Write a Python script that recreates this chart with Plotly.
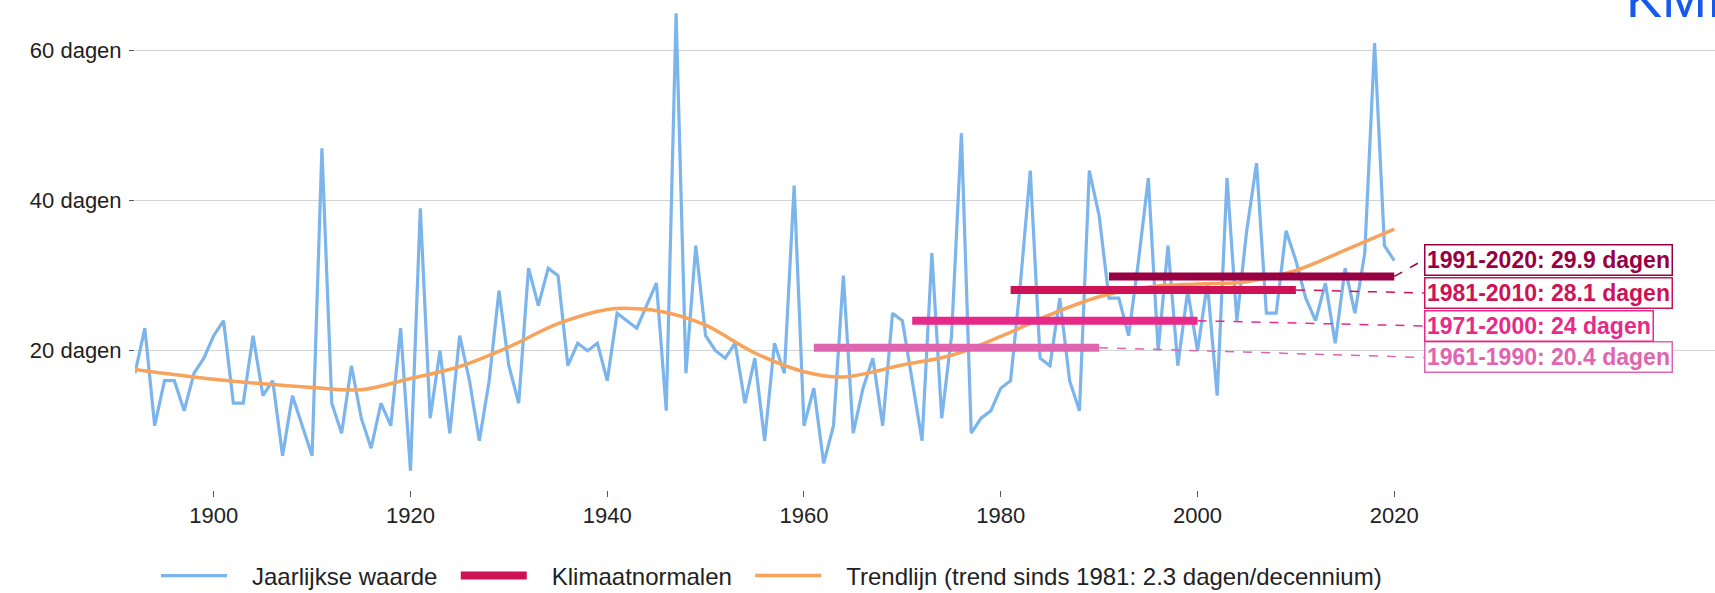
import plotly.graph_objects as go

# ---------------- data ----------------
years = list(range(1892, 2021))
jaarlijks = [
    17, 23, 10, 16, 16, 12, 17, 19,                      # 1892-1899
    22, 24, 13, 13, 22, 14, 16, 6, 14, 10,               # 1900-1909
    6, 47, 13, 9, 18, 11, 7, 13, 10, 23,                 # 1910-1919
    4, 39, 11, 20, 9, 22, 16, 8, 16, 28,                 # 1920-1929
    18, 13, 31, 26, 31, 30, 18, 21, 20, 21,              # 1930-1939
    16, 25, 24, 23, 26, 29, 12, 65, 17, 34,              # 1940-1949
    22, 20, 19, 21, 13, 19, 8, 21, 17, 42,               # 1950-1959
    10, 15, 5, 10, 30, 9, 15, 19, 10, 25,                # 1960-1969
    24, 16, 8, 33, 11, 22, 49, 9, 11, 12,                # 1970-1979
    15, 16, 29, 44, 19, 18, 27, 16, 12, 44,              # 1980-1989
    38, 27, 27, 22, 32, 43, 20, 34, 18, 28,              # 1990-1999
    20, 29, 14, 43, 24, 36, 45, 25, 25, 36,              # 2000-2009
    32, 27, 24, 29, 21, 31, 25, 33, 61, 34,              # 2010-2019
    32,                                                  # 2020
]

trend_years = [1892, 1900, 1910, 1915, 1920, 1925, 1930, 1935, 1940, 1943,
               1946, 1950, 1955, 1960, 1964, 1970, 1975, 1980, 1985, 1990,
               1995, 2000, 2005, 2010, 2015, 2020]
trend_values = [17.5, 16.2, 15.1, 14.8, 16.3, 17.9, 20.5, 23.6, 25.5, 25.6,
                25.1, 23.4, 19.7, 17.2, 16.5, 18.1, 19.4, 21.9, 24.8, 27.2,
                28.5, 28.9, 29.2, 30.7, 33.4, 36.2]

normal_start = [1961, 1971, 1981, 1991]
normal_end = [1990, 2000, 2010, 2020]
normal_values = [20.4, 24, 28.1, 29.9]
normal_colors = ["#df65b0", "#e7298a", "#ce1256", "#980043"]
label_y = [19.1, 23.3, 27.7, 32.1]
label_x = 2023

tick_years = [1900, 1920, 1940, 1960, 1980, 2000, 2020]
tick_values = [20, 40, 60]
tick_labels = ["20 dagen", "40 dagen", "60 dagen"]

FONT = "Liberation Sans, Arial, sans-serif"
TXT = "#222222"
NB = "\u00a0"

fig = go.Figure()

fig.add_trace(go.Scatter(
    x=years, y=jaarlijks, mode="lines", name=NB * 3 + "Jaarlijkse waarde" + NB * 2,
    line=dict(color="#7cb5ec", width=3.2), legendrank=1,
))

fig.add_trace(go.Scatter(
    x=trend_years, y=trend_values, mode="lines",
    name=NB * 3 + "Trendlijn (trend sinds 1981: 2.3 dagen/decennium)",
    line=dict(color="#f7a35c", width=3.5, shape="spline", smoothing=1.0),
    legendrank=3,
))

for s, e, v, c in zip(normal_start, normal_end, normal_values, normal_colors):
    show = (c == "#ce1256")
    fig.add_trace(go.Scatter(
        x=[s, e], y=[v, v], mode="lines", name=NB * 3 + "Klimaatnormalen" + NB * 2,
        line=dict(color=c, width=8), showlegend=show, legendrank=2,
        legendgroup="normals",
    ))

for s, e, v, c, ly in zip(normal_start, normal_end, normal_values, normal_colors, label_y):
    fig.add_shape(type="line", xref="x", yref="y", x0=e, y0=v, x1=label_x, y1=ly,
                  line=dict(color=c, width=1.5, dash="dash"))
    fig.add_annotation(
        x=label_x, y=ly, xref="x", yref="y", xanchor="left", yanchor="middle",
        text=f"<b>{s}-{e}: {v:g} dagen</b>", showarrow=False,
        font=dict(family=FONT, size=23, color=c),
        bgcolor="white", bordercolor=c, borderwidth=1.5, borderpad=1.5,
    )

# KMI logo text (clipped at top-right)
fig.add_annotation(
    xref="paper", yref="paper", x=(1624 - 135) / 1580, y=1 - (30 - 5) / 485,
    xanchor="left", yanchor="bottom", text="KMI", showarrow=False,
    font=dict(family=FONT, size=54, color="#1559ee"),
)

fig.update_layout(
    width=1715, height=593,
    margin=dict(l=135, r=0, t=5, b=103),
    paper_bgcolor="white", plot_bgcolor="white",
    font=dict(family=FONT, size=22, color=TXT),
    xaxis=dict(
        range=[1892, 2052.6], tickvals=tick_years, ticks="outside", ticklen=6,
        tickcolor="#555555", showgrid=False, zeroline=False, showline=False,
        tickfont=dict(size=22, color=TXT),
    ),
    yaxis=dict(
        range=[1.43, 66.09], tickvals=tick_values, ticktext=tick_labels,
        ticks="outside", ticklen=5, tickcolor="#555555", gridcolor="#d3d3d3",
        gridwidth=1, zeroline=False, showline=False,
        tickfont=dict(size=22, color=TXT), ticklabelstandoff=3,
    ),
    legend=dict(
        orientation="h", xref="container", x=156 / 1715, xanchor="left",
        yref="container", y=1 - 576 / 593, yanchor="middle",
        font=dict(size=24, color=TXT),
        itemwidth=66, bgcolor="rgba(0,0,0,0)",
    ),
    showlegend=True,
)

fig.write_html("out.html", config={"displayModeBar": False},
               post_script="document.body.style.margin='0';")
